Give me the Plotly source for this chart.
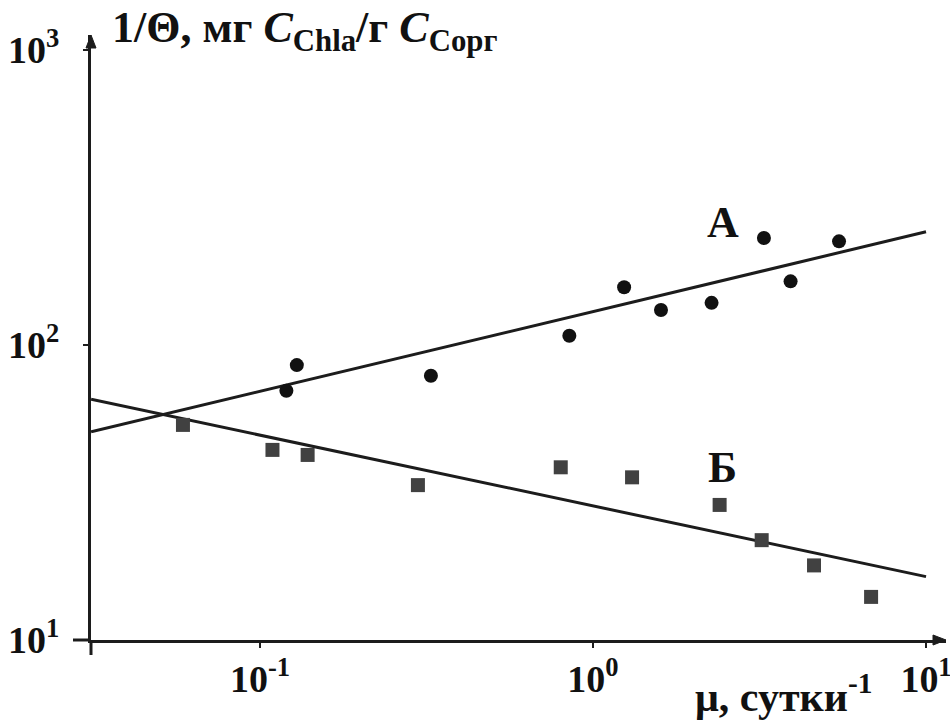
import plotly.graph_objects as go

# Series А: specific chlorophyll content vs. growth rate (circles)
mu_a = [0.120, 0.129, 0.326, 0.849, 1.24, 1.60, 2.27, 3.26, 3.92, 5.48]
inv_theta_a = [70.0, 85.5, 78.7, 107.5, 157.0, 131.5, 139.0, 230.7, 164.4, 224.6]

# Series Б (squares)
mu_b = [0.0587, 0.109, 0.139, 0.298, 0.80, 1.31, 2.40, 3.21, 4.61, 6.84]
inv_theta_b = [53.6, 44.1, 42.4, 33.5, 38.5, 35.6, 28.7, 21.8, 17.9, 14.0]

# Power-law trend lines, given by their end points
trend_mu = [0.0311, 10.0]
trend_a = [50.8, 242.0]
trend_b = [65.5, 16.4]

# Axis ticks
x_tickvals = [0.1, 1, 10]
x_ticktext = ["10<sup>-1</sup>", "10<sup>0</sup>", "10<sup>1</sup>"]
y_tickvals = [10, 100, 1000]
y_ticktext = ["10<sup>1</sup>", "10<sup>2</sup>", "10<sup>3</sup>"]

FONT = "Liberation Serif"
INK = "#1c1c1c"
W, H = 950, 722
ML, MR, MT, MB = 91, 4, 35, 82
PW, PH = W - ML - MR, H - MT - MB


def px(dx):
    return dx / PW


def py(dy):
    return dy / PH


fig = go.Figure()

fig.add_trace(go.Scatter(x=trend_mu, y=trend_a, mode="lines",
                         line=dict(color=INK, width=3), showlegend=False))
fig.add_trace(go.Scatter(x=trend_mu, y=trend_b, mode="lines",
                         line=dict(color=INK, width=3), showlegend=False))
fig.add_trace(go.Scatter(x=mu_a, y=inv_theta_a, mode="markers",
                         marker=dict(symbol="circle", size=14, color="#111111"),
                         cliponaxis=False, showlegend=False))
fig.add_trace(go.Scatter(x=mu_b, y=inv_theta_b, mode="markers",
                         marker=dict(symbol="square", size=14, color="#414141"),
                         cliponaxis=False, showlegend=False))

axis_common = dict(
    type="log", showgrid=False, zeroline=False, automargin=False,
    showline=True, linecolor=INK, linewidth=3,
    ticks="outside", ticklen=5, tickwidth=2, tickcolor=INK,
    ticklabeloverflow="allow",
    tickfont=dict(family=FONT, size=38, color="#111111", weight="bold"),
)

fig.update_xaxes(range=[-1.5075, 1.060], tickvals=x_tickvals, ticktext=x_ticktext,
                 ticklabelstandoff=-2, **axis_common)
fig.update_yaxes(range=[1.0, 3.051], tickvals=y_tickvals, ticktext=y_ticktext,
                 ticklabelstandoff=16, **axis_common)

# Axis overhangs at the origin and arrow heads at the axis ends
shapes = [
    dict(type="line", xref="paper", yref="paper", x0=-px(18), x1=0, y0=0, y1=0,
         line=dict(color=INK, width=3)),
    dict(type="line", xref="paper", yref="paper", x0=0, x1=0, y0=-py(15), y1=0,
         line=dict(color=INK, width=3)),
    dict(type="path", xref="paper", yref="paper",
         path=f"M 1 0 L {1 - px(13)} {py(5)} L {1 - px(13)} {-py(5)} Z",
         fillcolor=INK, line=dict(color=INK, width=1)),
    dict(type="path", xref="paper", yref="paper",
         path=f"M 0 1 L {px(5)} {1 - py(13)} L {-px(5)} {1 - py(13)} Z",
         fillcolor=INK, line=dict(color=INK, width=1)),
]

title_font = dict(family=FONT, size=44, color="#111111", weight="bold")
annotations = [
    dict(xref="paper", yref="paper", x=px(110 - ML), y=1 + py(MT - 60),
         xanchor="left", yanchor="bottom", showarrow=False,
         text="1/Θ, мг <i>C</i><sub>Chla</sub>/г <i>C</i><sub>Сорг</sub>",
         font=title_font),
    dict(xref="paper", yref="paper", x=px(874 - ML), y=-py(722 - 640),
         xanchor="right", yanchor="bottom", showarrow=False,
         text="μ, сутки<sup>-1</sup>", font=dict(title_font, size=42)),
    dict(x=0.390, y=2.417, xref="x", yref="y", showarrow=False,
         text="А", font=title_font),
    dict(x=0.390, y=1.586, xref="x", yref="y", showarrow=False,
         text="Б", font=title_font),
]

fig.update_layout(
    width=W, height=H,
    margin=dict(l=ML, r=MR, t=MT, b=MB),
    paper_bgcolor="white", plot_bgcolor="white",
    shapes=shapes, annotations=annotations,
    showlegend=False,
)

fig.write_html("out.html")
